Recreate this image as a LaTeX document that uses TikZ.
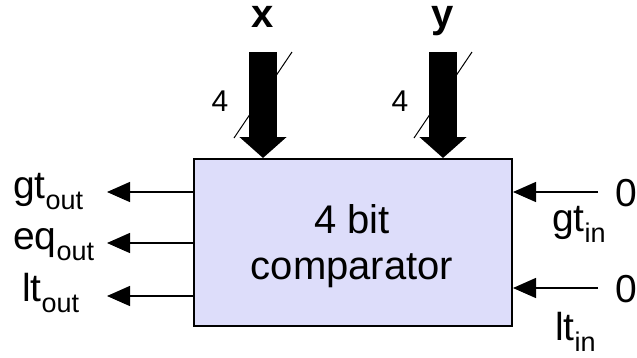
\documentclass[tikz,border=0pt]{standalone}
\usepackage{fontspec}
\setmainfont{Liberation Sans}
\usetikzlibrary{arrows.meta,calc}
\definecolor{boxfill}{RGB}{221,221,250}
\newcommand{\lab}[2]{#1\raisebox{-11pt}{\fontsize{27}{27}\selectfont #2}}
\tikzset{
  lbl/.style={inner sep=0pt, font=\fontsize{39}{44}\selectfont},
  buslbl/.style={inner sep=0pt, font=\fontsize{30}{34}\selectfont},
  varlbl/.style={inner sep=0pt, anchor=base, text height=21pt, font=\fontsize{40}{44}\selectfont\bfseries},
  bigarrow/.style={line width=28pt, -{Triangle[width=46pt,length=21pt]}},
  sarrow/.style={line width=1.4pt, -{Triangle[width=20pt,length=23pt]}},
  slash/.style={line width=1pt},
}
\begin{document}
\begin{tikzpicture}[x=1pt,y=-1pt]
\useasboundingbox[fill=white] (0,0) rectangle (637,357);
% box
\node[draw=black, line width=2pt, fill=boxfill, minimum width=318pt, minimum height=167pt, inner sep=0pt] (cmp) at (353,242.5) {};
\node[inner sep=0pt, align=center, font=\fontsize{40}{46}\selectfont] (txt) at (352,246) {4 bit\\comparator};
% bus inputs
\coordinate (xs) at (263,52);
\coordinate (ys) at (443,52);
\coordinate (x1) at (234,138); \coordinate (x2) at (292,52);
\coordinate (y1) at (414,138); \coordinate (y2) at (472,52);
\draw[slash] (x1) -- (x2);
\draw[slash] (y1) -- (y2);
\draw[bigarrow] (xs) -- (xs |- cmp.north);
\draw[bigarrow] (ys) -- (ys |- cmp.north);
\node[varlbl] (xl) at (263,27) {x};
\node[varlbl] (yl) at (443,27) {y};
\node[buslbl] (xn) at (220,101) {4};
\node[buslbl] (yn) at (400,101) {4};
% outputs
\coordinate (gto) at (107,192);
\coordinate (eqo) at (107,243);
\coordinate (lto) at (107,296);
\draw[sarrow] (cmp.west |- gto) -- (gto);
\draw[sarrow] (cmp.west |- eqo) -- (eqo);
\draw[sarrow] (cmp.west |- lto) -- (lto);
\node[lbl, anchor=base west] (gtol) at (13,198) {\lab{gt}{out}};
\node[lbl, anchor=base west] (eqol) at (13,249) {\lab{eq}{out}};
\node[lbl, anchor=base west] (ltol) at (22,301) {\lab{lt}{out}};
% inputs
\coordinate (gti0) at (598,192);
\coordinate (lti0) at (598,288);
\node[lbl, anchor=west] (z1) at (615,193) {0};
\node[lbl, anchor=west] (z2) at (615,289) {0};
\draw[sarrow] (gti0) -- (cmp.east |- gti0);
\draw[sarrow] (lti0) -- (cmp.east |- lti0);
\node[lbl, anchor=base west] (gti) at (552,231) {\lab{gt}{in}};
\node[lbl, anchor=base west] (lti) at (555,340) {\lab{lt}{in}};
\end{tikzpicture}
\end{document}
